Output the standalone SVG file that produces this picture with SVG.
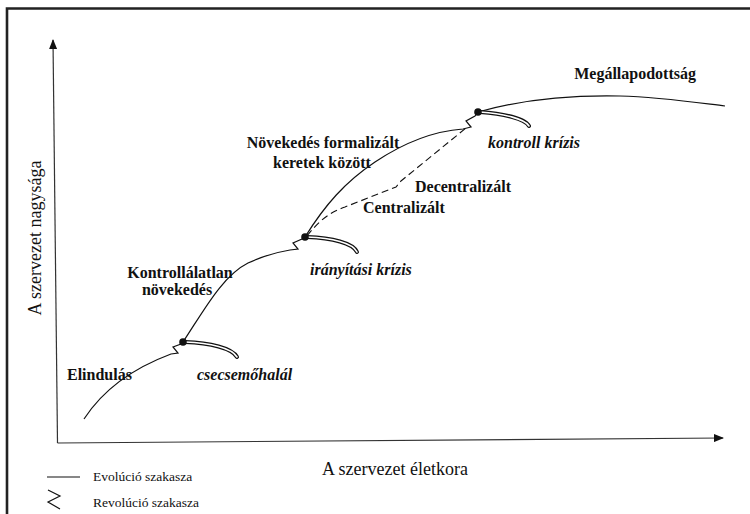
<svg xmlns="http://www.w3.org/2000/svg" width="750" height="514" viewBox="0 0 750 514">
<style>
text{font-family:"Liberation Serif","Times New Roman",serif;fill:#111}
.lb{font-size:16px;font-weight:bold}
.it{font-size:16px;font-weight:bold;font-style:italic}
.ax{font-size:18px}
.lg{font-size:13.5px}
.ln{fill:none;stroke:#111;stroke-width:1.2}
.ds{fill:none;stroke:#111;stroke-width:1.1;stroke-dasharray:7 4}
.tailo{fill:none;stroke:#111;stroke-width:4;stroke-linecap:round}
.taili{fill:none;stroke:#fff;stroke-width:1.6;stroke-linecap:round}
.axis{fill:none;stroke:#333;stroke-width:1.2}
</style>
<defs>
<marker id="arr" markerWidth="10" markerHeight="8" refX="9" refY="4" orient="auto" markerUnits="userSpaceOnUse">
<path d="M0,0 L10,4 L0,8 Z" fill="#111"/>
</marker>
</defs>
<rect width="750" height="514" fill="#fff"/>
<g id="frame">
<path d="M7,514 V8.5 H750" fill="none" stroke="#222" stroke-width="2.6"/>
</g>
<g id="axes">
<path class="axis" d="M57.5,443 L53,40" marker-end="url(#arr)"/>
<path class="axis" d="M57.5,443 L723,438" marker-end="url(#arr)"/>
<text class="ax" x="468" y="475" text-anchor="end">A szervezet életkora</text>
<text class="ax" transform="translate(41,238) rotate(-90)" text-anchor="middle">A szervezet nagysága</text>
</g>
<g id="connectors">
<path class="ln" d="M84,419 Q112,376 171,354 L178,353 L173,347 L181,344 L183,342"/>
<path class="ln" d="M183,342 C203,312 222,276 248,263 C263,256 278,252 290,250 L298,249 L293,243 L302,239 L305,237"/>
<path class="ln" d="M305,237 C325,205 345,182 375,162 C405,142 435,131 463,129 L471,127 L466,121 L475,116 L478,112"/>
<path class="ds" d="M307,236 C318,222 328,213 345,207 L396,187 L401,181 L466,128"/>
<path class="ln" d="M478,112 C520,100 570,95 620,96 C660,97 700,103 725,106"/>
</g>
<g id="tails">
<path class="tailo" d="M185,342 C210,343 232,348 237,357"/>
<path class="taili" d="M185,342 C210,343 232,348 237,357"/>
<path class="tailo" d="M307,237 C332,238 353,243 357,252"/>
<path class="taili" d="M307,237 C332,238 353,243 357,252"/>
<path class="tailo" d="M480,112 C505,114 525,119 529,126"/>
<path class="taili" d="M480,112 C505,114 525,119 529,126"/>
<circle cx="183" cy="342" r="3.8" fill="#111"/>
<circle cx="305" cy="237" r="3.8" fill="#111"/>
<circle cx="478" cy="112" r="3.8" fill="#111"/>
</g>
<g id="elindulas"><text class="lb" x="67" y="380">Elindulás</text></g>
<g id="csecsemohalal"><text class="it" x="197" y="380">csecsemőhalál</text></g>
<g id="kontrollalatlan"><text class="lb" x="180" y="278" text-anchor="middle">Kontrollálatlan</text><text class="lb" x="177" y="295" text-anchor="middle">növekedés</text></g>
<g id="iranyitasi"><text class="it" x="310" y="275">irányítási krízis</text></g>
<g id="formalizalt"><text class="lb" x="323" y="148" text-anchor="middle">Növekedés formalizált</text><text class="lb" x="322" y="168" text-anchor="middle">keretek között</text></g>
<g id="centralizalt"><text class="lb" x="363" y="213">Centralizált</text></g>
<g id="decentralizalt"><text class="lb" x="415" y="192">Decentralizált</text></g>
<g id="kontroll"><text class="it" x="488" y="148">kontroll krízis</text></g>
<g id="megallapodottsag"><text class="lb" x="696" y="79" text-anchor="end">Megállapodottság</text></g>
<g id="legend">
<path class="ln" d="M47,477 H80"/>
<text class="lg" x="93" y="481">Evolúció szakasza</text>
<path class="ln" d="M48,490 L60,496 L48,502 L60,509"/>
<text class="lg" x="93" y="507">Revolúció szakasza</text>
</g>
</svg>
